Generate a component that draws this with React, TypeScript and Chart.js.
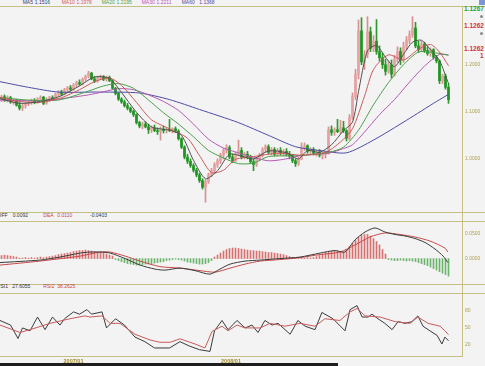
import React, { useEffect, useRef } from 'react';
import { Chart, registerables } from 'chart.js';

Chart.register(...registerables);

const FONT = "'Liberation Sans', Arial, sans-serif";
const BG = '#f3f3f3';
const RULE = '#c4bf82';
const AXIS_TXT = '#ab9f50';
const DATE_TXT = '#a08a28';

// ---------- price candles: [open, high, low, close], one per week ----------
const ohlc: [number, number, number, number][] = [
  [1.128, 1.135, 1.122, 1.132], [1.132, 1.136, 1.122, 1.125], [1.125, 1.134, 1.121, 1.13], [1.13, 1.133, 1.118, 1.121],
  [1.121, 1.128, 1.116, 1.125], [1.125, 1.127, 1.112, 1.114], [1.114, 1.12, 1.104, 1.108], [1.108, 1.116, 1.103, 1.113],
  [1.113, 1.12, 1.108, 1.118], [1.118, 1.124, 1.113, 1.121], [1.121, 1.127, 1.116, 1.124], [1.124, 1.128, 1.117, 1.12],
  [1.12, 1.13, 1.118, 1.127], [1.127, 1.134, 1.124, 1.131], [1.131, 1.133, 1.115, 1.118], [1.118, 1.13, 1.116, 1.127],
  [1.127, 1.133, 1.122, 1.13], [1.13, 1.134, 1.124, 1.127], [1.127, 1.14, 1.125, 1.137], [1.137, 1.145, 1.133, 1.142],
  [1.142, 1.146, 1.134, 1.138], [1.138, 1.15, 1.136, 1.147], [1.147, 1.154, 1.142, 1.151], [1.151, 1.156, 1.145, 1.148],
  [1.148, 1.16, 1.146, 1.157], [1.157, 1.165, 1.152, 1.162], [1.162, 1.168, 1.156, 1.159], [1.159, 1.172, 1.157, 1.169],
  [1.169, 1.178, 1.165, 1.175], [1.175, 1.186, 1.172, 1.182], [1.182, 1.184, 1.168, 1.17], [1.17, 1.175, 1.162, 1.165],
  [1.165, 1.176, 1.163, 1.172], [1.172, 1.178, 1.168, 1.175], [1.175, 1.177, 1.166, 1.169], [1.169, 1.176, 1.165, 1.173],
  [1.173, 1.176, 1.164, 1.166], [1.166, 1.168, 1.148, 1.15], [1.15, 1.152, 1.136, 1.139], [1.139, 1.142, 1.124, 1.127],
  [1.127, 1.13, 1.118, 1.121], [1.121, 1.125, 1.11, 1.113], [1.113, 1.118, 1.104, 1.108], [1.108, 1.11, 1.098, 1.101],
  [1.101, 1.104, 1.09, 1.094], [1.094, 1.096, 1.074, 1.077], [1.077, 1.08, 1.066, 1.07], [1.07, 1.078, 1.064, 1.074],
  [1.074, 1.079, 1.066, 1.068], [1.068, 1.074, 1.054, 1.062], [1.062, 1.07, 1.056, 1.066], [1.066, 1.072, 1.058, 1.06],
  [1.06, 1.066, 1.052, 1.058], [1.058, 1.068, 1.04, 1.063], [1.063, 1.07, 1.055, 1.06], [1.06, 1.066, 1.055, 1.063],
  [1.063, 1.084, 1.058, 1.061], [1.061, 1.066, 1.055, 1.064], [1.064, 1.068, 1.056, 1.059], [1.059, 1.062, 1.04, 1.043],
  [1.043, 1.045, 1.022, 1.025], [1.025, 1.028, 1.0, 1.004], [1.004, 1.01, 0.99, 0.995], [0.995, 1.0, 0.982, 0.986],
  [0.986, 0.99, 0.972, 0.976], [0.976, 0.98, 0.962, 0.966], [0.966, 0.97, 0.95, 0.954], [0.954, 0.958, 0.936, 0.94],
  [0.94, 0.956, 0.908, 0.952], [0.952, 0.97, 0.948, 0.966], [0.966, 0.98, 0.962, 0.975], [0.975, 0.992, 0.97, 0.988],
  [0.988, 1.0, 0.982, 0.996], [0.996, 1.012, 0.99, 1.008], [1.008, 1.022, 1.0, 1.018], [1.018, 1.03, 1.012, 1.024],
  [1.024, 1.028, 1.0, 1.004], [1.004, 1.01, 0.992, 0.996], [0.996, 1.014, 0.994, 1.01], [1.01, 1.04, 1.006, 1.018],
  [1.018, 1.024, 1.0, 1.004], [1.004, 1.014, 1.0, 1.01], [1.01, 1.016, 1.0, 1.004], [1.004, 1.008, 0.99, 0.994],
  [0.994, 1.0, 0.975, 0.988], [0.988, 1.004, 0.984, 1.0], [1.0, 1.012, 0.996, 1.008], [1.008, 1.024, 1.004, 1.02],
  [1.02, 1.03, 1.014, 1.026], [1.026, 1.03, 1.01, 1.014], [1.014, 1.024, 1.008, 1.02], [1.02, 1.024, 1.006, 1.01],
  [1.01, 1.022, 1.006, 1.018], [1.018, 1.024, 1.008, 1.012], [1.012, 1.02, 1.006, 1.016], [1.016, 1.022, 1.006, 1.01],
  [1.01, 1.016, 1.0, 1.006], [1.006, 1.01, 0.992, 0.996], [0.996, 1.0, 0.984, 0.99], [0.99, 1.004, 0.986, 1.0],
  [1.0, 1.034, 0.998, 1.022], [1.022, 1.034, 1.018, 1.028], [1.028, 1.03, 1.012, 1.016], [1.016, 1.024, 1.008, 1.02],
  [1.02, 1.024, 1.008, 1.012], [1.012, 1.018, 1.006, 1.014], [1.014, 1.02, 1.004, 1.008], [1.008, 1.014, 1.0, 1.01],
  [1.01, 1.016, 1.002, 1.012], [1.012, 1.068, 1.01, 1.062], [1.062, 1.07, 1.05, 1.056], [1.056, 1.066, 1.05, 1.062],
  [1.062, 1.084, 1.056, 1.058], [1.058, 1.082, 1.054, 1.066], [1.066, 1.08, 1.056, 1.06], [1.06, 1.062, 1.038, 1.044],
  [1.044, 1.094, 1.04, 1.088], [1.088, 1.14, 1.084, 1.132], [1.132, 1.19, 1.126, 1.18], [1.18, 1.295, 1.17, 1.272],
  [1.272, 1.3, 1.2, 1.206], [1.206, 1.23, 1.19, 1.222], [1.222, 1.302, 1.215, 1.27], [1.27, 1.28, 1.228, 1.235],
  [1.235, 1.262, 1.228, 1.25], [1.25, 1.296, 1.222, 1.228], [1.228, 1.24, 1.208, 1.215], [1.215, 1.225, 1.192, 1.2],
  [1.2, 1.212, 1.178, 1.186], [1.186, 1.208, 1.182, 1.2], [1.2, 1.21, 1.172, 1.18], [1.18, 1.22, 1.176, 1.212],
  [1.212, 1.238, 1.205, 1.228], [1.228, 1.236, 1.2, 1.21], [1.21, 1.248, 1.205, 1.238], [1.238, 1.26, 1.232, 1.252],
  [1.252, 1.272, 1.245, 1.264], [1.264, 1.302, 1.258, 1.278], [1.278, 1.29, 1.236, 1.24], [1.24, 1.25, 1.226, 1.232],
  [1.232, 1.25, 1.228, 1.244], [1.244, 1.248, 1.226, 1.23], [1.23, 1.238, 1.22, 1.224], [1.224, 1.236, 1.218, 1.232],
  [1.232, 1.234, 1.212, 1.216], [1.216, 1.22, 1.204, 1.208], [1.208, 1.21, 1.16, 1.166], [1.166, 1.18, 1.16, 1.176],
  [1.176, 1.18, 1.148, 1.152], [1.152, 1.16, 1.118, 1.126],
];

// ---------- moving averages: [candle index, value] ----------
const ma5: [number, number][] = [
  [-0.5, 1.128], [6, 1.118], [13, 1.122], [19.5, 1.133], [26, 1.155], [31, 1.174], [36, 1.171], [40, 1.141],
  [45, 1.099], [50, 1.068], [56, 1.061], [60, 1.05], [64, 0.997], [68, 0.958], [72, 0.975], [76, 1.01],
  [80, 1.006], [84, 1.0], [89, 1.017], [95, 1.013], [99, 1.0], [102, 1.018], [106, 1.014], [110, 1.03],
  [114, 1.06], [117, 1.078], [119, 1.143], [122, 1.23], [125, 1.241], [128, 1.216], [131, 1.196], [134, 1.222],
  [137, 1.248], [140, 1.252], [143, 1.232], [146, 1.209], [149, 1.16],
];
const ma10: [number, number][] = [
  [-0.5, 1.13], [6, 1.122], [13, 1.12], [20, 1.13], [26, 1.147], [31, 1.164], [36, 1.172], [40, 1.156],
  [45, 1.12], [50, 1.083], [56, 1.064], [62, 1.044], [66, 1.007], [70, 0.971], [74, 0.976], [78, 0.999],
  [84, 1.005], [92, 1.012], [100, 1.008], [108, 1.014], [113, 1.036], [117, 1.064], [121, 1.133], [124, 1.19],
  [129, 1.221], [134, 1.21], [139, 1.233], [143, 1.243], [146, 1.227], [149, 1.198],
];
const ma20: [number, number][] = [
  [-0.5, 1.13], [9, 1.125], [19, 1.125], [29, 1.144], [34, 1.155], [39, 1.16], [44, 1.15], [49, 1.125],
  [54, 1.098], [59, 1.074], [64, 1.047], [69, 1.018], [74, 1.002], [79, 0.99], [84, 0.991], [89, 1.005],
  [99, 1.007], [109, 1.014], [114, 1.025], [119, 1.061], [124, 1.115], [129, 1.162], [134, 1.2], [139, 1.227],
  [144, 1.226], [149, 1.22],
];
const ma30: [number, number][] = [
  [-0.5, 1.125], [14, 1.124], [29, 1.136], [39, 1.149], [44, 1.147], [49, 1.136], [54, 1.122], [59, 1.103],
  [64, 1.074], [69, 1.042], [74, 1.023], [79, 1.013], [84, 1.003], [89, 0.996], [94, 0.999], [99, 1.006],
  [104, 1.01], [109, 1.012], [114, 1.022], [117, 1.03], [121, 1.057], [126, 1.094], [131, 1.126], [136, 1.163],
  [141, 1.197], [146, 1.222], [149, 1.221],
];
const ma60: [number, number][] = [
  [-0.5, 1.164], [9, 1.152], [19, 1.142], [33, 1.142], [46, 1.14], [56, 1.126], [66, 1.105], [79, 1.077],
  [89, 1.05], [98, 1.026], [106, 1.018], [115, 1.013], [124, 1.04], [135, 1.082], [145, 1.122], [149, 1.137],
];

// ---------- MACD ----------
const macdDif: [number, number][] = [
  [-0.5, -0.008], [12.8, -0.003], [19.5, 0.003], [26.2, 0.011], [29.5, 0.013], [32.8, 0.013], [36.2, 0.011],
  [41.2, 0.0], [46.2, -0.013], [51.2, -0.021], [54.5, -0.023], [59.5, -0.019], [64.5, -0.024], [69.5, -0.031],
  [72.8, -0.021], [76.2, -0.011], [81.2, -0.005], [86.2, -0.003], [92.8, 0.0], [99.5, 0.003], [106.2, 0.011],
  [111.2, 0.016], [114.5, 0.013], [117.8, 0.037], [121.2, 0.053], [124.5, 0.061], [127.8, 0.053], [131.2, 0.048],
  [134.5, 0.045], [137.8, 0.04], [141.2, 0.032], [144.5, 0.019], [147.2, 0.005], [148.8, -0.008],
];
const macdDea: [number, number][] = [
  [-0.5, -0.013], [12.8, -0.005], [26.2, 0.005], [32.8, 0.013], [36.2, 0.013], [41.2, 0.005], [46.2, -0.005],
  [52.8, -0.016], [59.5, -0.019], [66.2, -0.024], [71.2, -0.027], [76.2, -0.019], [81.2, -0.011], [86.2, -0.005],
  [92.8, -0.002], [99.5, 0.002], [106.2, 0.008], [112.8, 0.013], [117.8, 0.027], [122.8, 0.043], [127.8, 0.051],
  [132.8, 0.048], [137.8, 0.043], [142.8, 0.035], [147.8, 0.021], [148.8, 0.013],
];
const macdHist: number[] = [
  0.006, 0.007, 0.006, 0.005, 0.004, 0.003,
  0.001, 0.001, 0.002, 0.001, 0.002, 0.001, 0.002, 0.003, 0.002, 0.003, 0.004,
  0.005, 0.006, 0.008, 0.009, 0.01, 0.011, 0.012, 0.014, 0.015, 0.016, 0.016, 0.017, 0.016, 0.015, 0.014, 0.013,
  0.012, 0.011, 0.009, 0.007, 0.005,
  -0.002, -0.004, -0.006, -0.008, -0.01, -0.011, -0.012, -0.013, -0.013, -0.012, -0.011, -0.011, -0.01, -0.009,
  -0.008, -0.007, -0.006, -0.004, -0.003,
  -0.002, -0.001, -0.002, -0.003, -0.005,
  -0.007, -0.008, -0.009, -0.01, -0.011, -0.011, -0.01, -0.008,
  -0.004,
  0.003, 0.007, 0.011, 0.015, 0.018, 0.02, 0.021, 0.021, 0.02, 0.019, 0.018, 0.017, 0.016, 0.016, 0.015, 0.015,
  0.014, 0.013, 0.012, 0.012, 0.011, 0.01, 0.009, 0.008, 0.006,
  0.004, 0.002, 0.001, 0.001, 0.002, 0.001, 0.002, 0.001, 0.002, 0.004, 0.006,
  0.009, 0.012, 0.014, 0.015, 0.016, 0.015, 0.014, 0.013,
  0.018, 0.024, 0.03, 0.036, 0.042, 0.046, 0.048, 0.048, 0.045, 0.04, 0.034, 0.027, 0.018, 0.009,
  -0.002, -0.003, -0.004, -0.004, -0.003, -0.004, -0.005, -0.004, -0.005, -0.006, -0.008, -0.01, -0.012, -0.014,
  -0.017, -0.02, -0.023, -0.026, -0.029, -0.032, -0.035,
];

// ---------- RSI ----------
const rsi1: [number, number][] = [
  [-0.5, 63], [3, 55], [5.5, 31.5], [7, 50], [9.5, 45], [12, 69], [14.5, 47], [17, 69], [19.5, 55], [21, 66],
  [24, 78], [26, 74], [28.5, 82], [30, 74], [33.5, 78], [35, 50], [38, 66], [41, 55], [44.5, 34], [47.8, 26],
  [51, 15], [56, 15], [59.5, 26], [62.8, 18], [66, 12], [69.5, 9], [71, 45], [73.5, 63], [75.5, 47], [78.5, 63],
  [81.2, 50], [83.5, 55], [85.5, 42], [87.8, 63], [90.2, 55], [92.2, 58], [96.2, 39], [98.8, 63], [101.2, 53],
  [104.5, 47], [106.8, 77], [110.5, 66], [114.5, 45], [116.2, 82], [118.5, 89], [120.2, 69], [122.2, 69],
  [123.5, 74], [125.5, 66], [127.8, 58], [130.2, 47], [132.2, 61], [134.5, 58], [136.8, 61], [138.8, 71],
  [140.5, 53], [142.8, 45], [145.2, 37], [146.8, 22], [147.8, 34], [149, 27.6],
];
const rsi2: [number, number][] = [
  [-0.5, 55], [6.2, 42], [9.5, 47], [16.2, 58], [22.8, 66], [27.8, 71], [29.5, 69], [33.5, 71], [36.2, 58],
  [39.5, 58], [44.5, 39], [49.5, 29], [52.8, 25], [56.2, 25], [59.5, 31], [64.5, 22], [67.8, 15], [70.2, 44],
  [73.5, 53], [75.5, 45], [78.5, 55], [81.2, 50], [86.2, 50], [89.5, 58], [94.5, 53], [99.5, 58], [104.5, 53],
  [107.8, 66], [112.8, 63], [116.2, 78], [118.5, 84], [121.2, 71], [126.2, 69], [131.2, 61], [136.2, 58],
  [138.8, 69], [142.2, 58], [146.2, 53], [147.8, 45], [149, 38.3],
];

// ---------- axis ticks / labels ----------
const priceTicks = [1.0, 1.1, 1.2];
const macdTicks = [0.0, 0.05];
const rsiTicks = [20, 50, 80];
const dateIdx = [24, 76.5];
const dateLabels = ['2007/01', '2008/01'];

const X_MIN = -0.5;
const X_MAX = 153.5;
const AXIS_W = 23;

const toXY = (pts: [number, number][]) => pts.map(([x, y]) => ({ x, y }));

function xScale(display = false): any {
  return {
    type: 'linear', min: X_MIN, max: X_MAX, display, offset: false,
    grid: { display: false, drawTicks: false }, border: { display: false },
  };
}

function yScale(min: number, max: number, ticks: number[], fmt: (v: number) => string): any {
  return {
    type: 'linear', position: 'right', min, max,
    grid: { display: false, drawTicks: false }, border: { display: false },
    afterFit: (s: any) => { s.width = AXIS_W; },
    afterBuildTicks: (s: any) => { s.ticks = ticks.map((v) => ({ value: v })); },
    ticks: { color: AXIS_TXT, font: { size: 5, family: FONT }, padding: 3, callback: (v: any) => fmt(Number(v)) },
  };
}

function lineDs(pts: [number, number][], color: string, tension = 0.25): any {
  return {
    type: 'line', data: toXY(pts), borderColor: color, borderWidth: 1, pointRadius: 0,
    tension, fill: false, order: 1,
  };
}

const baseOptions: any = {
  responsive: false, animation: false, devicePixelRatio: 1, events: [],
  layout: { padding: 0 },
  plugins: { legend: { display: false }, tooltip: { enabled: false } },
};

const isUp = ohlc.map((c) => c[3] >= c[0]);

const mainConfig: any = {
  type: 'bar',
  data: {
    datasets: [
      lineDs(ma5, '#505050'),
      lineDs(ma10, '#c85a5a'),
      lineDs(ma20, '#4c9f4c'),
      lineDs(ma30, '#b35ab3'),
      lineDs(ma60, '#4b4ba5'),
      {
        type: 'bar', data: ohlc.map((c, i) => ({ x: i, y: [c[2], c[1]] })),
        backgroundColor: isUp.map((u) => (u ? '#d99090' : '#2b992b')),
        barThickness: 1, grouped: false, order: 5,
      },
      {
        type: 'bar', data: ohlc.map((c, i) => ({ x: i, y: [c[0], c[3]] })),
        backgroundColor: isUp.map((u) => (u ? '#e6a2a2' : '#1f951f')),
        barThickness: 2, grouped: false, order: 4,
      },
    ],
  },
  options: { ...baseOptions, scales: { x: xScale(), y: yScale(0.9, 1.312, priceTicks, (v) => v.toFixed(4)) } },
};

const macdConfig: any = {
  type: 'bar',
  data: {
    datasets: [
      lineDs(macdDif, '#3a3a3a'),
      lineDs(macdDea, '#c84848'),
      {
        type: 'bar', data: macdHist.map((v, i) => ({ x: i, y: v })),
        backgroundColor: macdHist.map((v) => (v >= 0 ? '#d87070' : '#6cb46c')),
        barThickness: 1, grouped: false, order: 5,
      },
    ],
  },
  options: { ...baseOptions, scales: { x: xScale(), y: yScale(-0.0387, 0.0629, macdTicks, (v) => v.toFixed(4)) } },
};

const rsiConfig: any = {
  type: 'line',
  data: {
    datasets: [lineDs(rsi2, '#c85a5a', 0), lineDs(rsi1, '#3a3a3a', 0)],
  },
  options: {
    ...baseOptions,
    scales: {
      x: {
        ...xScale(true), position: 'bottom',
        afterFit: (s: any) => { s.height = 10; },
        afterBuildTicks: (s: any) => { s.ticks = dateIdx.map((v) => ({ value: v })); },
        ticks: {
          autoSkip: false, maxRotation: 0, minRotation: 0, color: DATE_TXT, padding: 2,
          font: { size: 5.5, family: FONT, weight: 'bold' },
          callback: (v: any) => dateLabels[dateIdx.indexOf(Number(v))] ?? '',
        },
      },
      y: yScale(1, 100.5, rsiTicks, (v) => String(Math.round(v))),
    },
  },
};

function ChartCanvas({ config, top, height }: { config: any; top: number; height: number }) {
  const ref = useRef<HTMLCanvasElement>(null);
  useEffect(() => {
    const chart = new Chart(ref.current as HTMLCanvasElement, config);
    return () => chart.destroy();
  }, [config]);
  return (
    <canvas
      ref={ref}
      width={485}
      height={height}
      style={{ position: 'absolute', left: 0, top, width: 485, height, display: 'block' }}
    />
  );
}

type Piece = [string, number, string];
const mainHeader: Piece[] = [
  ['MA5', 22.7, '#3a3a6a'], ['1.1516', 34.8, '#3a3a6a'],
  ['MA10', 61.7, '#d05858'], ['1.1978', 76.5, '#d05858'],
  ['MA20', 101.7, '#4aa04a'], ['1.2195', 116.5, '#4aa04a'],
  ['MA30', 141.7, '#c050c0'], ['1.2211', 156.5, '#c050c0'],
  ['MA60', 181.7, '#4a4aa8'], ['1.1368', 199.3, '#4a4aa8'],
];
const macdHeader: Piece[] = [
  ['DIFF', -3.5, '#333333'], ['0.0092', 12.7, '#333333'],
  ['DEA', 43.3, '#c84848'], ['0.0110', 57.3, '#c84848'],
  ['-0.0403', 90, '#333333'],
];
const rsiHeader: Piece[] = [
  ['RSI1', -3.2, '#333333'], ['27.6055', 12.3, '#333333'],
  ['RSI2', 43.3, '#c84848'], ['38.2625', 57.3, '#c84848'],
];

function Txt({ x, y, color, size = 5, bold = false, children }: any) {
  return (
    <span
      style={{
        position: 'absolute', left: x, top: y, color, fontSize: size, lineHeight: 1,
        fontFamily: FONT, whiteSpace: 'nowrap', fontWeight: bold ? 700 : 400,
      }}
    >
      {children}
    </span>
  );
}

function HLine({ y, x0 = 0, x1 = 485 }: { y: number; x0?: number; x1?: number }) {
  return <div style={{ position: 'absolute', left: x0, top: y, width: x1 - x0, height: 1, background: RULE }} />;
}

export default function App() {
  return (
    <div
      style={{
        position: 'absolute', left: 0, top: 0, width: 485, height: 366, overflow: 'hidden',
        background: BG, fontFamily: FONT,
      }}
    >
      <HLine y={6} />
      <HLine y={212} />
      <HLine y={221} />
      <HLine y={284} />
      <HLine y={293} />
      <HLine y={356} x1={463} />
      <div style={{ position: 'absolute', left: 462, top: 6, width: 1, height: 351, background: RULE }} />
      <div style={{ position: 'absolute', left: 479, top: 0, width: 6, height: 5, background: '#7b98d6' }} />

      {mainHeader.map(([t, x, c], k) => (
        <Txt key={'m' + k} x={x} y={0.4} color={c}>{t}</Txt>
      ))}
      {macdHeader.map(([t, x, c], k) => (
        <Txt key={'d' + k} x={x} y={212.8} color={c}>{t}</Txt>
      ))}
      {rsiHeader.map(([t, x, c], k) => (
        <Txt key={'r' + k} x={x} y={284.4} color={c}>{t}</Txt>
      ))}

      <Txt x={464} y={5.8} color="#2e9e2e" size={6.5} bold>1.1267</Txt>
      <Txt x={464} y={22.5} color="#d03535" size={6.5} bold>1.1262</Txt>
      <Txt x={464} y={45.8} color="#d03535" size={6.5} bold>1.1262</Txt>
      <Txt x={480} y={52.6} color="#d03535" size={6.5} bold>1</Txt>
      <div style={{ position: 'absolute', left: 480, top: 15, width: 3, height: 3, borderRadius: 2, background: '#8a8a8a' }} />
      <div style={{ position: 'absolute', left: 480, top: 32, width: 3, height: 3, borderRadius: 2, background: '#8a8a8a' }} />

      <ChartCanvas config={mainConfig} top={6} height={206} />
      <ChartCanvas config={macdConfig} top={221} height={63} />
      <ChartCanvas config={rsiConfig} top={293} height={73} />

      <div style={{ position: 'absolute', left: 0, top: 363, width: 338, height: 3, background: '#1e1e1e' }} />
    </div>
  );
}
